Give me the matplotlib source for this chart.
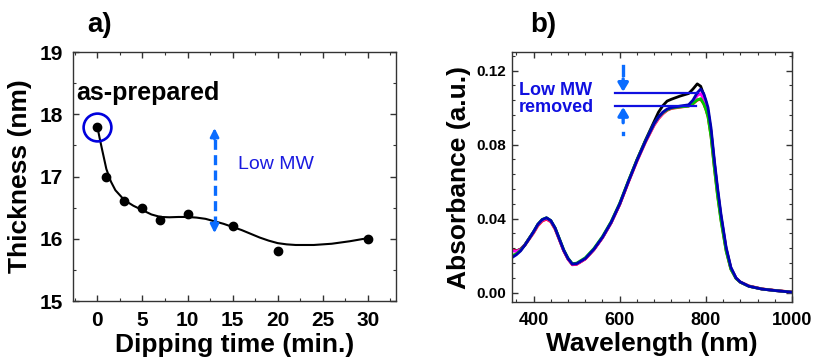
import matplotlib
matplotlib.use('Agg')
import matplotlib.pyplot as plt
from matplotlib.ticker import MultipleLocator, FormatStrFormatter

plt.rcParams['font.family'] = ['Liberation Sans', 'DejaVu Sans']
plt.rcParams['font.weight'] = 'bold'

# a) thickness vs dipping time
dip_time = [0, 1, 3, 5, 7, 10, 15, 20, 30]
thickness = [17.8, 17.0, 16.6, 16.5, 16.3, 16.4, 16.2, 15.8, 16.0]

# fitted guide line
fit_time = [0, 0.25, 0.5, 1, 1.5, 2, 3, 4, 5, 6, 7, 8, 9, 10, 11, 12, 13, 14,
            15, 16, 17, 18, 19, 20, 21, 22, 24, 26, 28, 30]
fit_thick = [17.80, 17.62, 17.45, 17.12, 16.92, 16.78, 16.62, 16.53, 16.46, 16.39,
             16.35, 16.345, 16.35, 16.35, 16.34, 16.32, 16.28, 16.24, 16.19, 16.14,
             16.08, 16.02, 15.97, 15.93, 15.91, 15.90, 15.90, 15.92, 15.96, 16.01]

# b) absorbance spectra
wavelength = [350, 360, 370, 380, 390, 400, 410, 420, 430, 440, 450, 460, 470, 480,
              490, 500, 520, 540, 560, 580, 600, 620, 640, 660, 680, 690, 700, 710,
              720, 740, 760, 770, 780, 788, 795, 800, 805, 812, 820, 827, 835, 847,
              858, 870, 880, 900, 930, 960, 1000]
abs_black = [0.0232, 0.0226, 0.0236, 0.0260, 0.0295, 0.0328, 0.0368, 0.0393, 0.0403,
             0.0388, 0.0348, 0.0288, 0.0228, 0.0183, 0.0154, 0.0156,
             0.0183, 0.0233, 0.0298, 0.0378, 0.0478, 0.0600, 0.0718, 0.0825, 0.0925,
             0.0975, 0.1010, 0.1035, 0.1045, 0.1062, 0.1076, 0.1100, 0.1128, 0.1115,
             0.1070, 0.1030, 0.0980, 0.0870, 0.0695, 0.0555, 0.0412, 0.0238, 0.0133,
             0.0078, 0.0057, 0.0035, 0.0020, 0.0012, 0.0003]
abs_red = [0.0232, 0.0224, 0.0233, 0.0257, 0.0290, 0.0323, 0.0362, 0.0387, 0.0397,
           0.0383, 0.0343, 0.0285, 0.0226, 0.0181, 0.0151, 0.0153,
           0.0182, 0.0232, 0.0297, 0.0377, 0.0476, 0.0596, 0.0710, 0.0814, 0.0905,
           0.0940, 0.0966, 0.0985, 0.0995, 0.1002, 0.1008, 0.1020, 0.1040, 0.1045,
           0.1020, 0.0990, 0.0950, 0.0845, 0.0670, 0.0530, 0.0395, 0.0228, 0.0128,
           0.0078, 0.0058, 0.0037, 0.0021, 0.0013, 0.0004]
abs_magenta = [0.0228, 0.0223, 0.0233, 0.0258, 0.0292, 0.0326, 0.0366, 0.0391, 0.0401,
               0.0386, 0.0346, 0.0287, 0.0227, 0.0182, 0.0153, 0.0155,
               0.0183, 0.0233, 0.0298, 0.0378, 0.0478, 0.0598, 0.0712, 0.0817, 0.0908,
               0.0943, 0.0969, 0.0988, 0.0998, 0.1005, 0.1012, 0.1032, 0.1065, 0.1075,
               0.1045, 0.1010, 0.0970, 0.0865, 0.0690, 0.0548, 0.0410, 0.0236, 0.0132,
               0.0079, 0.0058, 0.0036, 0.0020, 0.0012, 0.0003]
abs_green = [0.0200, 0.0210, 0.0230, 0.0258, 0.0294, 0.0330, 0.0370, 0.0396, 0.0405,
             0.0390, 0.0350, 0.0292, 0.0232, 0.0187, 0.0157, 0.0160,
             0.0189, 0.0239, 0.0304, 0.0384, 0.0484, 0.0604, 0.0718, 0.0822, 0.0914,
             0.0948, 0.0972, 0.0988, 0.0998, 0.1004, 0.1008, 0.1022, 0.1042, 0.1048,
             0.1020, 0.0990, 0.0950, 0.0842, 0.0665, 0.0525, 0.0390, 0.0225, 0.0127,
             0.0077, 0.0057, 0.0035, 0.0020, 0.0012, 0.0003]
abs_blue = [0.0190, 0.0205, 0.0226, 0.0258, 0.0293, 0.0330, 0.0370, 0.0395, 0.0405,
            0.0390, 0.0350, 0.0290, 0.0230, 0.0185, 0.0155, 0.0157,
            0.0185, 0.0235, 0.0300, 0.0380, 0.0480, 0.0600, 0.0715, 0.0820, 0.0915,
            0.0950, 0.0975, 0.0992, 0.1000, 0.1008, 0.1015, 0.1040, 0.1080, 0.1100,
            0.1075, 0.1040, 0.1000, 0.0890, 0.0710, 0.0570, 0.0426, 0.0246, 0.0138,
            0.0080, 0.0058, 0.0035, 0.0020, 0.0012, 0.0003]

spectra = [(abs_black, 'black'), (abs_red, 'red'), (abs_magenta, 'magenta'),
           (abs_green, '#00cc00'), (abs_blue, '#0000b4')]

fig = plt.figure(figsize=(8.13, 3.58), dpi=100)
ax_a = fig.add_axes([0.0898, 0.1592, 0.397, 0.6955])
ax_b = fig.add_axes([0.6298, 0.1564, 0.3444, 0.6983])

for ax in (ax_a, ax_b):
    for sp in ax.spines.values():
        sp.set_color('#333333')
        sp.set_linewidth(1.0)
    ax.tick_params(which='both', direction='in', top=True, right=True, color='#333333')
    ax.tick_params(which='major', length=4, width=1)
    ax.tick_params(which='minor', length=2.5, width=0.8)

# ---- panel a
ax_a.plot(fit_time, fit_thick, color='black', lw=1.5)
ax_a.plot(dip_time, thickness, 'o', color='black', ms=6)
ax_a.plot(dip_time[0], thickness[0], 'o', mfc='none', mec='#0000dd', ms=20, mew=1.9)

ax_a.set_xlim(-2.7, 33.1)
ax_a.set_ylim(15, 19)
ax_a.xaxis.set_major_locator(MultipleLocator(5))
ax_a.xaxis.set_minor_locator(MultipleLocator(2.5))
ax_a.yaxis.set_major_locator(MultipleLocator(1))
ax_a.yaxis.set_minor_locator(MultipleLocator(0.5))
ax_a.tick_params(axis='both', labelsize=15, pad=7)
ax_a.set_xlabel('Dipping time (min.)', fontsize=19, fontweight='bold', labelpad=2)
ax_a.set_ylabel('Thickness (nm)', fontsize=19, fontweight='bold', labelpad=6)

ax_a.text(-2.3, 18.23, 'as-prepared', fontsize=18, fontweight='bold', ha='left', va='baseline')
ax_a.text(15.6, 17.2, 'Low MW', fontsize=14, fontweight='normal', color='#1a1ae0',
          ha='left', va='center')
arrow_c = '#0a6cff'
ax_a.plot([13, 13], [16.2, 17.65], ls=(0, (3, 1.6)), color=arrow_c, lw=2.4)
ax_a.annotate('', xy=(13, 17.78), xytext=(13, 17.6),
              arrowprops=dict(arrowstyle='-|>,head_length=0.5,head_width=0.25',
                              color=arrow_c, lw=2, shrinkA=0, shrinkB=0))
ax_a.annotate('', xy=(13, 16.09), xytext=(13, 16.27),
              arrowprops=dict(arrowstyle='-|>,head_length=0.5,head_width=0.25',
                              color=arrow_c, lw=2, shrinkA=0, shrinkB=0))
fig.text(0.107, 0.929, 'a)', fontsize=20, fontweight='bold', ha='left', va='center')

# ---- panel b
for vals, c in spectra:
    ax_b.plot(wavelength, vals, color=c, lw=2.0, solid_joinstyle='round')

ax_b.set_xlim(350, 1000)
ax_b.set_ylim(-0.005, 0.13)
ax_b.xaxis.set_major_locator(MultipleLocator(200))
ax_b.xaxis.set_minor_locator(MultipleLocator(40))
ax_b.yaxis.set_major_locator(MultipleLocator(0.04))
ax_b.yaxis.set_minor_locator(MultipleLocator(0.008))
ax_b.yaxis.set_major_formatter(FormatStrFormatter('%.2f'))
ax_b.tick_params(axis='x', labelsize=13, pad=7)
ax_b.tick_params(axis='y', labelsize=11, pad=4)
ax_b.set_xlabel('Wavelength (nm)', fontsize=19, fontweight='bold', labelpad=2)
ax_b.set_ylabel('Absorbance (a.u.)', fontsize=19, fontweight='bold', labelpad=4)

line_c = '#1010e0'
ax_b.plot([590, 782], [0.108, 0.108], color=line_c, lw=1.6)
ax_b.plot([590, 778], [0.1008, 0.1008], color=line_c, lw=1.6)
ax_b.text(366, 0.1045, 'Low MW\nremoved', fontsize=13, fontweight='bold', color=line_c,
          ha='left', va='center', linespacing=1.0)
ax_b.plot([608, 608], [0.1175, 0.1225], color=arrow_c, lw=2.4)
ax_b.annotate('', xy=(608, 0.1085), xytext=(608, 0.1155),
              arrowprops=dict(arrowstyle='-|>,head_length=0.5,head_width=0.3',
                              color=arrow_c, lw=2.4, shrinkA=0, shrinkB=0))
ax_b.annotate('', xy=(608, 0.1003), xytext=(608, 0.0918),
              arrowprops=dict(arrowstyle='-|>,head_length=0.5,head_width=0.3',
                              color=arrow_c, lw=2.4, shrinkA=0, shrinkB=0))
ax_b.plot([608, 608], [0.0855, 0.0865], color=arrow_c, lw=2.4)
fig.text(0.652, 0.929, 'b)', fontsize=20, fontweight='bold', ha='left', va='center')

fig.savefig('out.png', dpi=100)
